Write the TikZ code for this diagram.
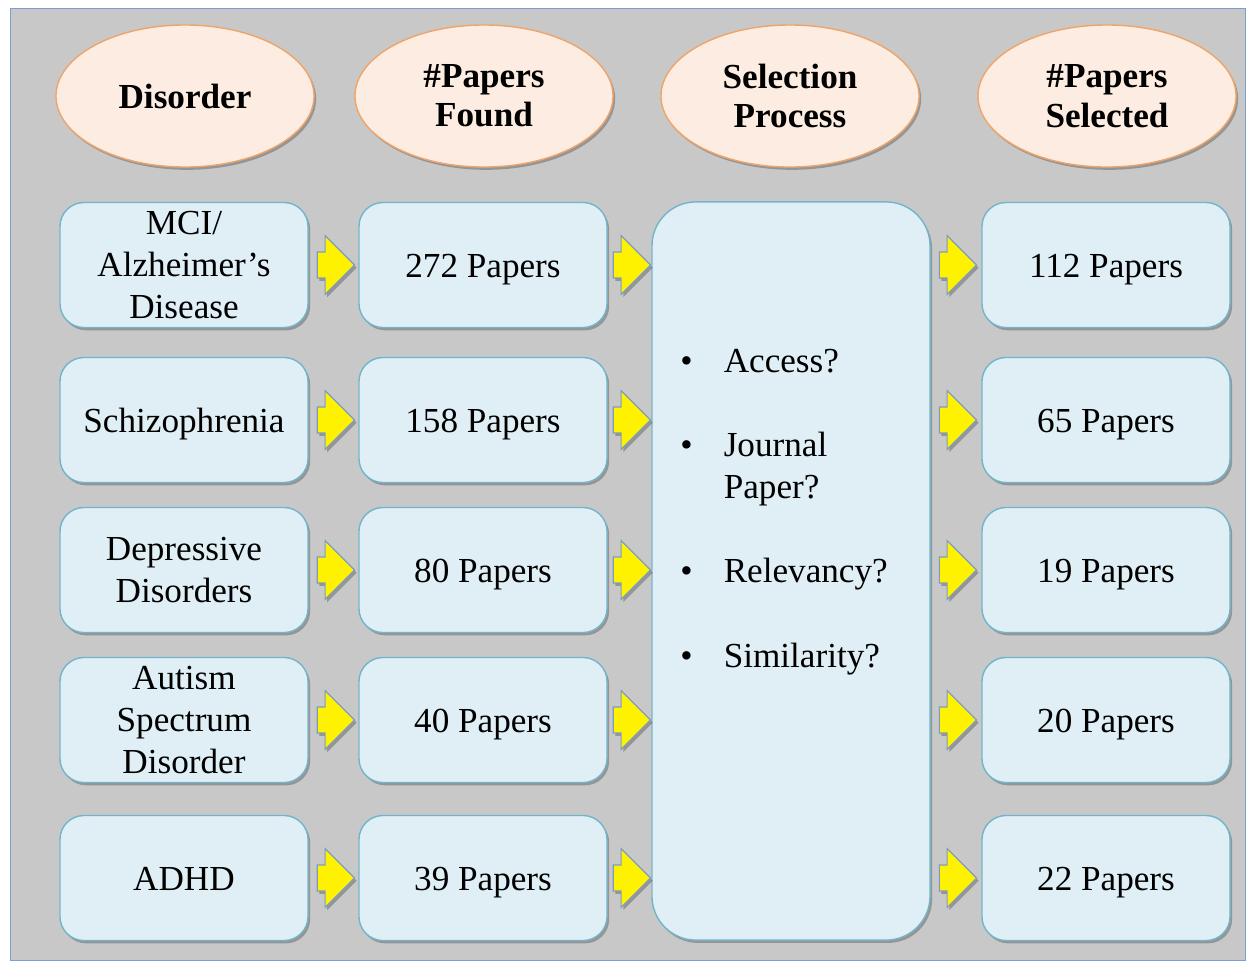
\documentclass[tikz,border=0pt]{standalone}
\usepackage{fontspec}
\setmainfont{Liberation Serif}
\usetikzlibrary{shapes.geometric,shapes.arrows,shadows,calc}

\definecolor{panelgray}{HTML}{C8C8C8}
\definecolor{frameblue}{HTML}{7A9ED6}
\definecolor{cellfill}{HTML}{E0EFF5}
\definecolor{celledge}{HTML}{72B5CB}
\definecolor{headfill}{HTML}{FCECE1}
\definecolor{headedge}{HTML}{EFA56A}
\definecolor{arrowedge}{HTML}{7E9DBE}

\begin{document}
\begin{tikzpicture}[x=0.025cm, y=-0.025cm,
  font=\fontsize{25}{30}\selectfont,
  softshadow/.style={drop shadow={shadow xshift=1.5pt, shadow yshift=-2pt, opacity=0.25, fill=black}},
  head/.style={ellipse, draw=headedge, line width=1pt, fill=headfill, minimum width=6.45cm,
    minimum height=3.55cm, align=center, font=\fontsize{25}{28}\selectfont\bfseries, softshadow},
  cell/.style={rectangle, rounded corners=0.6cm, draw=celledge, line width=1pt, fill=cellfill,
    minimum width=6.2cm, minimum height=3.125cm, align=center, softshadow},
  oneline/.style={text height=0.6cm, text depth=0pt},
  flow/.style={single arrow, draw=arrowedge, line width=0.8pt, fill=yellow, inner xsep=0pt,
    inner ysep=0.31cm, minimum height=0.93cm, single arrow head extend=0.41cm,
    single arrow head indent=0pt, anchor=tail, softshadow}]
  \useasboundingbox (0,0) rectangle (1254,963);
  \draw[frameblue, fill=panelgray] (10,8) rectangle (1245,960);
  % column headers
  \node[head] (hdis) at (185,96) {Disorder};
  \node[head] (hfound) at (484,96) {\#Papers\\Found};
  \node[head] (hproc) at (790,96) {Selection\\Process};
  \node[head] (hsel) at (1107,96) {\#Papers\\Selected};
  % disorders
  \node[cell] (d1) at (184,265) {MCI/\\Alzheimer's\\Disease};
  \node[cell, oneline] (d2) at (184,420) {Schizophrenia};
  \node[cell] (d3) at (184,570) {Depressive\\Disorders};
  \node[cell] (d4) at (184,720) {Autism\\Spectrum\\Disorder};
  \node[cell, oneline] (d5) at (184,878) {ADHD};
  % papers found
  \node[cell, oneline] (f1) at (483,265) {272 Papers};
  \node[cell, oneline] (f2) at (483,420) {158 Papers};
  \node[cell, oneline] (f3) at (483,570) {80 Papers};
  \node[cell, oneline] (f4) at (483,720) {40 Papers};
  \node[cell, oneline] (f5) at (483,878) {39 Papers};
  % selection process
  \node[cell, rounded corners=1.1cm, minimum width=6.95cm, minimum height=18.45cm] (sel) at (791,571) {};
  \node[anchor=base west, inner sep=0pt] (crit) at (680,372)
    {\begin{tabular}[t]{@{}l@{\hspace{0.78cm}}l@{}}
      \textbullet & Access?\\[30pt]
      \textbullet & Journal\\
                  & Paper?\\[30pt]
      \textbullet & Relevancy?\\[30pt]
      \textbullet & Similarity?
    \end{tabular}};
  % papers selected
  \node[cell, oneline] (s1) at (1106,265) {112 Papers};
  \node[cell, oneline] (s2) at (1106,420) {65 Papers};
  \node[cell, oneline] (s3) at (1106,570) {19 Papers};
  \node[cell, oneline] (s4) at (1106,720) {20 Papers};
  \node[cell, oneline] (s5) at (1106,878) {22 Papers};
  % block arrows
  \foreach \i in {1,...,5} {
    \node[flow] (fa\i) at ($(d\i.east)+(8,0)$) {};
    \node[flow] (sa\i) at ($(f\i.east)+(5,0)$) {};
    \node[flow] (ta\i) at ($(s\i.west -| sel.east)+(8,0)$) {};
  }
\end{tikzpicture}
\end{document}
